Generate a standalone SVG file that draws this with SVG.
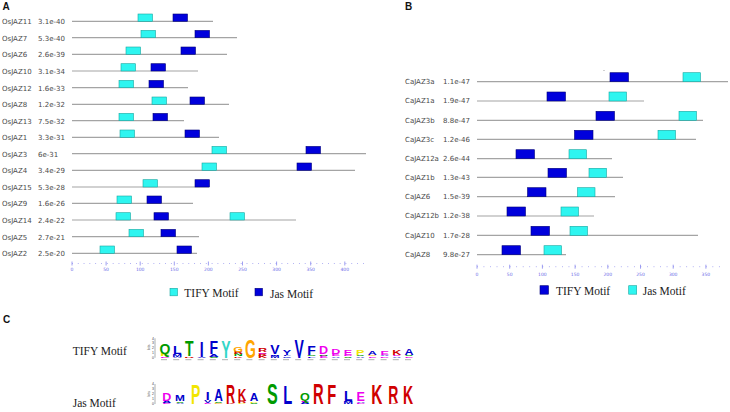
<svg xmlns="http://www.w3.org/2000/svg" width="730" height="412" viewBox="0 0 730 412">
<style>
.pl{font-family:"Liberation Sans",Arial,sans-serif;font-weight:bold;font-size:10px;fill:#111}
.lb{font-family:"DejaVu Sans",Verdana,sans-serif;font-size:7px;fill:#4a4a4a}
.ln{stroke:#a4a4a4;stroke-width:1.2;fill:none}
.ti{fill:#2ef5f0;stroke:#17a7a0;stroke-width:0.6}
.ja{fill:#0000dc;stroke:#00007a;stroke-width:0.6}
.ax{stroke:#8888ee;stroke-width:0.8}
.axt{font-family:"DejaVu Sans",sans-serif;font-size:4.5px;fill:#6a6ae8;text-anchor:middle}
.leg{font-family:"Liberation Serif","Times New Roman",serif;font-size:11.5px;fill:#222}
.lg{font-family:"Liberation Sans",Arial,sans-serif;font-weight:bold;font-size:14px;text-anchor:middle}
.g{fill:#009a00}.b{fill:#0000cc}.r{fill:#d00000}.m{fill:#ee00ee}.y{fill:#f2e600}.o{fill:#ffa500}.t{fill:#33d6c8}
.tiny{font-family:"Liberation Sans",sans-serif;font-size:3.5px;fill:#444}
</style>
<rect width="730" height="412" fill="#fff"/>

<!-- Panel A -->
<g id="panelA">
<text class="pl" x="2.5" y="10">A</text>
<g id="OsJAZ11"><text class="lb" x="2" y="24.3">OsJAZ11</text><text class="lb" x="38" y="24.3">3.1e-40</text><line class="ln" x1="72" y1="21.3" x2="213" y2="21.3"/><rect class="ti" x="138" y="14" width="14.5" height="7.3"/><rect class="ja" x="173" y="14" width="14.5" height="7.3"/></g>
<g id="OsJAZ7"><text class="lb" x="2" y="40.7">OsJAZ7</text><text class="lb" x="38" y="40.7">5.3e-40</text><line class="ln" x1="72" y1="37.7" x2="237" y2="37.7"/><rect class="ti" x="141" y="30.4" width="14.5" height="7.3"/><rect class="ja" x="195" y="30.4" width="14.5" height="7.3"/></g>
<g id="OsJAZ6"><text class="lb" x="2" y="57.3">OsJAZ6</text><text class="lb" x="38" y="57.3">2.6e-39</text><line class="ln" x1="72" y1="54.3" x2="227" y2="54.3"/><rect class="ti" x="126" y="47" width="14.5" height="7.3"/><rect class="ja" x="181" y="47" width="14.5" height="7.3"/></g>
<g id="OsJAZ10"><text class="lb" x="2" y="74">OsJAZ10</text><text class="lb" x="38" y="74">3.1e-34</text><line class="ln" x1="72" y1="71" x2="198" y2="71"/><rect class="ti" x="121" y="63.7" width="14.5" height="7.3"/><rect class="ja" x="151" y="63.7" width="14.5" height="7.3"/></g>
<g id="OsJAZ12"><text class="lb" x="2" y="90.7">OsJAZ12</text><text class="lb" x="38" y="90.7">1.6e-33</text><line class="ln" x1="72" y1="87.7" x2="188" y2="87.7"/><rect class="ti" x="119" y="80.4" width="14.5" height="7.3"/><rect class="ja" x="149" y="80.4" width="14.5" height="7.3"/></g>
<g id="OsJAZ8"><text class="lb" x="2" y="107.3">OsJAZ8</text><text class="lb" x="38" y="107.3">1.2e-32</text><line class="ln" x1="72" y1="104.3" x2="229" y2="104.3"/><rect class="ti" x="152" y="97" width="14.5" height="7.3"/><rect class="ja" x="190" y="97" width="14.5" height="7.3"/></g>
<g id="OsJAZ13"><text class="lb" x="2" y="123.7">OsJAZ13</text><text class="lb" x="38" y="123.7">7.5e-32</text><line class="ln" x1="72" y1="120.7" x2="184" y2="120.7"/><rect class="ti" x="119" y="113.4" width="14.5" height="7.3"/><rect class="ja" x="153" y="113.4" width="14.5" height="7.3"/></g>
<g id="OsJAZ1"><text class="lb" x="2" y="140.3">OsJAZ1</text><text class="lb" x="38" y="140.3">3.3e-31</text><line class="ln" x1="72" y1="137.3" x2="219" y2="137.3"/><rect class="ti" x="120" y="130" width="14.5" height="7.3"/><rect class="ja" x="185" y="130" width="14.5" height="7.3"/></g>
<g id="OsJAZ3"><text class="lb" x="2" y="156.7">OsJAZ3</text><text class="lb" x="38" y="156.7">6e-31</text><line class="ln" x1="72" y1="153.7" x2="366" y2="153.7"/><rect class="ti" x="212" y="146.4" width="14.5" height="7.3"/><rect class="ja" x="306" y="146.4" width="14.5" height="7.3"/></g>
<g id="OsJAZ4"><text class="lb" x="2" y="173.3">OsJAZ4</text><text class="lb" x="38" y="173.3">3.4e-29</text><line class="ln" x1="72" y1="170.3" x2="355" y2="170.3"/><rect class="ti" x="202" y="163" width="14.5" height="7.3"/><rect class="ja" x="297" y="163" width="14.5" height="7.3"/></g>
<g id="OsJAZ15"><text class="lb" x="2" y="190">OsJAZ15</text><text class="lb" x="38" y="190">5.3e-28</text><line class="ln" x1="72" y1="187" x2="209" y2="187"/><rect class="ti" x="143" y="179.7" width="14.5" height="7.3"/><rect class="ja" x="195" y="179.7" width="14.5" height="7.3"/></g>
<g id="OsJAZ9"><text class="lb" x="2" y="206.3">OsJAZ9</text><text class="lb" x="38" y="206.3">1.6e-26</text><line class="ln" x1="72" y1="203.3" x2="193" y2="203.3"/><rect class="ti" x="117" y="196" width="14.5" height="7.3"/><rect class="ja" x="147" y="196" width="14.5" height="7.3"/></g>
<g id="OsJAZ14"><text class="lb" x="2" y="223">OsJAZ14</text><text class="lb" x="38" y="223">2.4e-22</text><line class="ln" x1="72" y1="220" x2="296" y2="220"/><rect class="ti" x="116" y="212.7" width="14.5" height="7.3"/><rect class="ja" x="154" y="212.7" width="14.5" height="7.3"/><rect class="ti" x="230" y="212.7" width="14.5" height="7.3"/></g>
<g id="OsJAZ5"><text class="lb" x="2" y="239.7">OsJAZ5</text><text class="lb" x="38" y="239.7">2.7e-21</text><line class="ln" x1="72" y1="236.7" x2="199" y2="236.7"/><rect class="ti" x="129" y="229.4" width="14.5" height="7.3"/><rect class="ja" x="161" y="229.4" width="14.5" height="7.3"/></g>
<g id="OsJAZ2"><text class="lb" x="2" y="256.3">OsJAZ2</text><text class="lb" x="38" y="256.3">2.5e-20</text><line class="ln" x1="72" y1="253.3" x2="197" y2="253.3"/><rect class="ti" x="100" y="246" width="14.5" height="7.3"/><rect class="ja" x="177" y="246" width="14.5" height="7.3"/></g>
<g id="axisA">
<path class="ax" stroke-dasharray="0.8 5.02" d="M72 263.5H366"/>
<path class="ax" d="M72 261.5v4M106.1 261.5v4M140.2 261.5v4M174.3 261.5v4M208.4 261.5v4M242.5 261.5v4M276.6 261.5v4M310.7 261.5v4M344.8 261.5v4"/>
<text class="axt" x="72" y="271">0</text><text class="axt" x="106.1" y="271">50</text><text class="axt" x="140.2" y="271">100</text><text class="axt" x="174.3" y="271">150</text><text class="axt" x="208.4" y="271">200</text><text class="axt" x="242.5" y="271">250</text><text class="axt" x="276.6" y="271">300</text><text class="axt" x="310.7" y="271">350</text><text class="axt" x="344.8" y="271">400</text>
</g>
<g id="legendA">
<rect class="ti" x="170" y="288.3" width="7.5" height="7.5"/><text class="leg" x="184.3" y="297">TIFY Motif</text>
<rect class="ja" x="255" y="288.3" width="7.5" height="7.5"/><text class="leg" x="270" y="298">Jas Motif</text>
</g>
</g>

<!-- Panel B -->
<g id="panelB">
<text class="pl" x="405" y="10">B</text>
<circle cx="604" cy="70.5" r="0.6" fill="#999"/>
<g id="CaJAZ3a"><text class="lb" x="405" y="84">CaJAZ3a</text><text class="lb" x="443" y="84">1.1e-47</text><line class="ln" x1="477" y1="81.7" x2="728" y2="81.7"/><rect class="ja" x="610" y="72.7" width="18.5" height="9"/><rect class="ti" x="683" y="72.7" width="17.5" height="9"/></g>
<g id="CaJAZ1a"><text class="lb" x="405" y="103.3">CaJAZ1a</text><text class="lb" x="443" y="103.3">1.9e-47</text><line class="ln" x1="477" y1="101" x2="644" y2="101"/><rect class="ja" x="547" y="92" width="18.5" height="9"/><rect class="ti" x="609" y="92" width="17.5" height="9"/></g>
<g id="CaJAZ3b"><text class="lb" x="405" y="122.6">CaJAZ3b</text><text class="lb" x="443" y="122.6">8.8e-47</text><line class="ln" x1="477" y1="120.3" x2="703" y2="120.3"/><rect class="ja" x="596" y="111.3" width="18.5" height="9"/><rect class="ti" x="679" y="111.3" width="17.5" height="9"/></g>
<g id="CaJAZ3c"><text class="lb" x="405" y="141.6">CaJAZ3c</text><text class="lb" x="443" y="141.6">1.2e-46</text><line class="ln" x1="477" y1="139.3" x2="696" y2="139.3"/><rect class="ja" x="574.5" y="130.3" width="18.5" height="9"/><rect class="ti" x="658" y="130.3" width="17.5" height="9"/></g>
<g id="CaJAZ12a"><text class="lb" x="405" y="161">CaJAZ12a</text><text class="lb" x="443" y="161">2.6e-44</text><line class="ln" x1="477" y1="158.7" x2="612" y2="158.7"/><rect class="ja" x="516" y="149.7" width="18.5" height="9"/><rect class="ti" x="569" y="149.7" width="17.5" height="9"/></g>
<g id="CaJAZ1b"><text class="lb" x="405" y="179.6">CaJAZ1b</text><text class="lb" x="443" y="179.6">1.3e-43</text><line class="ln" x1="477" y1="177.3" x2="623" y2="177.3"/><rect class="ja" x="548" y="168.3" width="18.5" height="9"/><rect class="ti" x="589" y="168.3" width="17.5" height="9"/></g>
<g id="CaJAZ6"><text class="lb" x="405" y="199">CaJAZ6</text><text class="lb" x="443" y="199">1.5e-39</text><line class="ln" x1="477" y1="196.7" x2="615" y2="196.7"/><rect class="ja" x="527.5" y="187.7" width="18.5" height="9"/><rect class="ti" x="577.5" y="187.7" width="17.5" height="9"/></g>
<g id="CaJAZ12b"><text class="lb" x="405" y="218.3">CaJAZ12b</text><text class="lb" x="443" y="218.3">1.2e-38</text><line class="ln" x1="477" y1="216" x2="594" y2="216"/><rect class="ja" x="507" y="207" width="18.5" height="9"/><rect class="ti" x="561" y="207" width="17.5" height="9"/></g>
<g id="CaJAZ10"><text class="lb" x="405" y="237.6">CaJAZ10</text><text class="lb" x="443" y="237.6">1.7e-28</text><line class="ln" x1="477" y1="235.3" x2="698" y2="235.3"/><rect class="ja" x="531" y="226.3" width="18.5" height="9"/><rect class="ti" x="570" y="226.3" width="17.5" height="9"/></g>
<g id="CaJAZ8"><text class="lb" x="405" y="257">CaJAZ8</text><text class="lb" x="443" y="257">9.8e-27</text><line class="ln" x1="477" y1="254.7" x2="566" y2="254.7"/><rect class="ja" x="502" y="245.7" width="18.5" height="9"/><rect class="ti" x="544" y="245.7" width="17.5" height="9"/></g>
<g id="axisB">
<path class="ax" stroke-dasharray="0.8 5.74" d="M477 266.7H720"/>
<path class="ax" d="M477 264.7v4M509.7 264.7v4M542.4 264.7v4M575.1 264.7v4M607.8 264.7v4M640.5 264.7v4M673.2 264.7v4M705.9 264.7v4"/>
<text class="axt" x="477" y="276">0</text><text class="axt" x="509.7" y="276">50</text><text class="axt" x="542.4" y="276">100</text><text class="axt" x="575.1" y="276">150</text><text class="axt" x="607.8" y="276">200</text><text class="axt" x="640.5" y="276">250</text><text class="axt" x="673.2" y="276">300</text><text class="axt" x="705.9" y="276">350</text>
</g>
<g id="legendB">
<rect class="ja" x="540" y="285.7" width="8.5" height="8.5"/><text class="leg" x="556" y="294.5">TIFY Motif</text>
<rect class="ti" x="628.7" y="285.7" width="8" height="8.5"/><text class="leg" x="642.7" y="294.5">Jas Motif</text>
</g>
</g>

<!-- Panel C -->
<g id="panelC">
<text class="pl" x="3" y="322.5">C</text>
<text class="leg" x="72.7" y="355.3">TIFY Motif</text>
<text class="leg" x="72.7" y="407.3">Jas Motif</text>
<g id="logoTIFY">
<path d="M155 338.3V357.7" stroke="#333" stroke-width="0.4"/>
<text class="tiny" x="152" y="339.5">4</text><text class="tiny" x="152" y="344.4">3</text><text class="tiny" x="152" y="349.2">2</text><text class="tiny" x="152" y="354">1</text><text class="tiny" x="152" y="358.9">0</text>
<text class="tiny" transform="translate(149.5 350) rotate(-90)">bits</text>
<path d="M161 359.7h6M173.2 359.7h6M185.4 359.7h6M197.6 359.7h6M209.8 359.7h6M222 359.7h6M234.2 359.7h6M246.4 359.7h6M258.6 359.7h6M270.8 359.7h6M283 359.7h6M295.2 359.7h6M307.4 359.7h6M319.6 359.7h6M331.8 359.7h6M344 359.7h6M356.2 359.7h6M368.4 359.7h6M380.6 359.7h6M392.8 359.7h6M405 359.7h6" stroke="#9a9a9a" stroke-width="0.8"/>
<g transform="translate(0 357.7)">
<text class="lg m" transform="translate(165 0) scale(1 0.145)">E</text><text class="lg y" transform="translate(165 -1.5) scale(1 0.19)">P</text><text class="lg g" transform="translate(165 -3.5) scale(1 1.06)">Q</text>
<text class="lg b" transform="translate(177.2 0) scale(1 0.1)">A</text><text class="lg b" transform="translate(177.2 -1) scale(0.85 0.24)">M</text><text class="lg b" transform="translate(177.2 -3.4) scale(1 0.82)">L</text>
<text class="lg r" transform="translate(189.4 0) scale(1 0.15)">R</text><text class="lg g" transform="translate(189.4 -1.5) scale(1 1.55)">T</text>
<text class="lg b" transform="translate(201.6 0) scale(1 0.1)">V</text><text class="lg b" transform="translate(201.6 -1) scale(1 1.6)">I</text>
<text class="lg g" transform="translate(213.8 0) scale(1 0.1)">S</text><text class="lg b" transform="translate(213.8 -1) scale(1 0.29)">A</text><text class="lg b" transform="translate(213.8 -3.9) scale(1 1.26)">F</text>
<text class="lg t" transform="translate(226 0) scale(1 1.74)">Y</text>
<text class="lg r" transform="translate(238.2 0) scale(0.9 0.145)">K</text><text class="lg g" transform="translate(238.2 -1.45) scale(0.9 0.19)">N</text><text class="lg r" transform="translate(238.2 -3.4) scale(0.9 0.19)">R</text><text class="lg o" transform="translate(238.2 -5.3) scale(0.9 0.58)">G</text>
<text class="lg o" transform="translate(250.4 0) scale(1 1.89)">G</text>
<text class="lg r" transform="translate(262.6 0) scale(0.9 0.19)">K</text><text class="lg r" transform="translate(262.6 -1.9) scale(0.9 0.19)">R</text><text class="lg m" transform="translate(262.6 -3.8) scale(0.9 0.145)">E</text><text class="lg r" transform="translate(262.6 -5.3) scale(0.9 0.39)">R</text>
<text class="lg b" transform="translate(274.8 0) scale(0.8 0.19)">M</text><text class="lg b" transform="translate(274.8 -1.9) scale(1 0.145)">I</text><text class="lg b" transform="translate(274.8 -3.4) scale(1 0.92)">V</text>
<text class="lg b" transform="translate(287 0) scale(0.9 0.145)">C</text><text class="lg b" transform="translate(287 -1.5) scale(0.9 0.145)">L</text><text class="lg b" transform="translate(287 -3) scale(0.9 0.48)">Y</text>
<text class="lg b" transform="translate(299.2 0) scale(1 0.1)">I</text><text class="lg b" transform="translate(299.2 -1) scale(1 1.65)">V</text>
<text class="lg b" transform="translate(311.4 0) scale(1 0.145)">L</text><text class="lg g" transform="translate(311.4 -1.5) scale(1 0.145)">S</text><text class="lg b" transform="translate(311.4 -3) scale(1 0.97)">F</text>
<text class="lg m" transform="translate(323.6 0) scale(0.9 0.19)">E</text><text class="lg g" transform="translate(323.6 -1.9) scale(0.9 0.145)">N</text><text class="lg m" transform="translate(323.6 -3.4) scale(0.9 0.73)">D</text>
<text class="lg b" transform="translate(335.8 0) scale(0.9 0.145)">A</text><text class="lg m" transform="translate(335.8 -1.5) scale(0.9 0.19)">E</text><text class="lg m" transform="translate(335.8 -3.4) scale(0.9 0.48)">D</text>
<text class="lg g" transform="translate(348 0) scale(0.9 0.145)">S</text><text class="lg m" transform="translate(348 -1.5) scale(0.9 0.145)">D</text><text class="lg m" transform="translate(348 -3) scale(0.9 0.48)">E</text>
<text class="lg b" transform="translate(360.2 0) scale(0.9 0.145)">A</text><text class="lg g" transform="translate(360.2 -1.5) scale(0.9 0.145)">S</text><text class="lg y" transform="translate(360.2 -3) scale(0.9 0.48)">P</text>
<text class="lg m" transform="translate(372.4 0) scale(0.9 0.145)">E</text><text class="lg o" transform="translate(372.4 -1.5) scale(0.9 0.145)">G</text><text class="lg b" transform="translate(372.4 -3) scale(0.9 0.39)">A</text>
<text class="lg m" transform="translate(384.6 0) scale(0.9 0.145)">D</text><text class="lg b" transform="translate(384.6 -1.5) scale(0.9 0.145)">A</text><text class="lg m" transform="translate(384.6 -3) scale(0.9 0.44)">E</text>
<text class="lg b" transform="translate(396.8 0) scale(0.9 0.145)">A</text><text class="lg m" transform="translate(396.8 -1.5) scale(0.9 0.145)">E</text><text class="lg r" transform="translate(396.8 -3) scale(0.9 0.48)">K</text>
<text class="lg m" transform="translate(409 0) scale(0.9 0.145)">E</text><text class="lg g" transform="translate(409 -1.5) scale(0.9 0.145)">S</text><text class="lg b" transform="translate(409 -3) scale(0.9 0.68)">A</text>
</g>
</g>
<g id="logoJas">
<path d="M155 384V404" stroke="#333" stroke-width="0.4"/>
<text class="tiny" x="152" y="385.2">4</text><text class="tiny" x="152" y="390.2">3</text><text class="tiny" x="152" y="395.2">2</text><text class="tiny" x="152" y="400.2">1</text><text class="tiny" x="152" y="405.2">0</text>
<text class="tiny" transform="translate(149.5 396.5) rotate(-90)">bits</text>
<g transform="translate(0 404)">
<text class="lg m" transform="translate(166.7 0) scale(0.9 0.15)">E</text><text class="lg b" transform="translate(166.7 -1.5) scale(0.9 0.2)">A</text><text class="lg m" transform="translate(166.7 -3.5) scale(0.9 0.75)">D</text>
<text class="lg b" transform="translate(180 0) scale(0.85 0.15)">A</text><text class="lg g" transform="translate(180 -1.5) scale(0.85 0.15)">S</text><text class="lg b" transform="translate(180 -3) scale(0.85 0.65)">M</text>
<text class="lg y" transform="translate(195.7 0) scale(1 2)">P</text>
<text class="lg m" transform="translate(207.7 0) scale(0.8 0.15)">E</text><text class="lg b" transform="translate(207.7 -1.5) scale(0.8 0.25)">V</text><text class="lg b" transform="translate(207.7 -4) scale(1 0.75)">I</text>
<text class="lg o" transform="translate(218.5 0) scale(0.85 0.15)">G</text><text class="lg g" transform="translate(218.5 -1.5) scale(0.85 0.15)">S</text><text class="lg b" transform="translate(218.5 -3) scale(0.85 1.15)">A</text>
<text class="lg r" transform="translate(230.5 0) scale(0.9 0.15)">K</text><text class="lg r" transform="translate(230.5 -1.5) scale(0.9 1.85)">R</text>
<text class="lg y" transform="translate(242 0) scale(0.85 0.15)">P</text><text class="lg r" transform="translate(242 -1.5) scale(0.85 0.2)">R</text><text class="lg r" transform="translate(242 -3.5) scale(0.85 1.2)">K</text>
<text class="lg g" transform="translate(254 0) scale(0.85 0.15)">S</text><text class="lg y" transform="translate(254 -1.5) scale(0.85 0.15)">P</text><text class="lg b" transform="translate(254 -3) scale(0.85 0.75)">A</text>
<text class="lg g" transform="translate(272.3 0) scale(1.15 2.1)">S</text>
<text class="lg b" transform="translate(287.7 0) scale(1.05 1.85)">L</text>
<text class="lg b" transform="translate(305 0) scale(0.9 0.2)">A</text><text class="lg m" transform="translate(305 -2) scale(0.9 0.15)">E</text><text class="lg g" transform="translate(305 -3.5) scale(0.9 0.8)">Q</text>
<text class="lg r" transform="translate(318.3 0) scale(1.05 2.1)">R</text>
<text class="lg r" transform="translate(331.7 0) scale(1.05 2)">F</text>
<text class="lg b" transform="translate(348.3 0) scale(0.85 0.2)">M</text><text class="lg b" transform="translate(348.3 -2) scale(0.85 0.15)">V</text><text class="lg b" transform="translate(348.3 -3.5) scale(1 1.1)">L</text>
<text class="lg m" transform="translate(360.7 0) scale(0.9 0.15)">D</text><text class="lg b" transform="translate(360.7 -1.5) scale(0.9 0.15)">A</text><text class="lg m" transform="translate(360.7 -3) scale(0.9 0.9)">E</text>
<text class="lg r" transform="translate(376.7 0) scale(1.1 2)">K</text>
<text class="lg r" transform="translate(393.3 0) scale(1 0.15)">K</text><text class="lg r" transform="translate(393.3 -1.5) scale(1 1.7)">R</text>
<text class="lg r" transform="translate(408 0) scale(1 1.8)">K</text>
</g>
</g>
</g>
</svg>
